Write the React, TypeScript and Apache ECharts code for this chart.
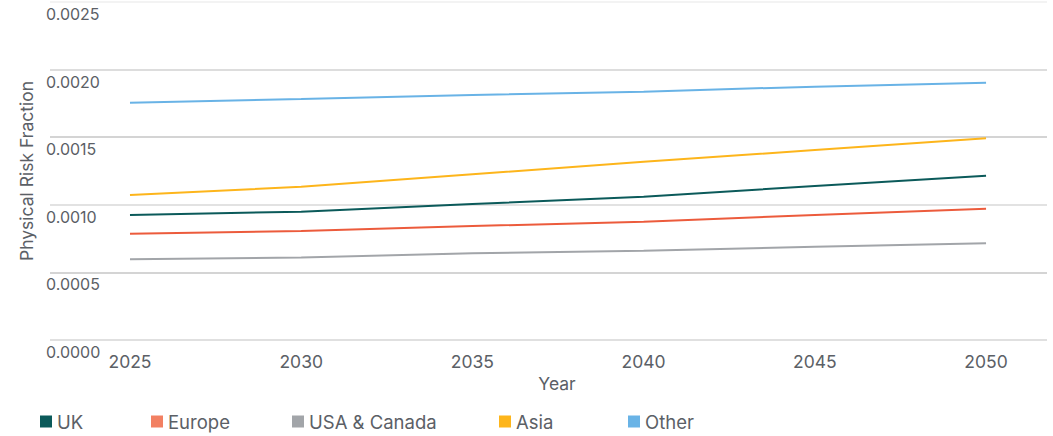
import React, { useEffect, useRef } from "react";
import * as echarts from "echarts";

const years = [2025, 2030, 2035, 2040, 2045, 2050];
const uk = [0.000925, 0.000949, 0.001006, 0.00106, 0.001139, 0.001215];
const europe = [0.000786, 0.000806, 0.000843, 0.000875, 0.000925, 0.000971];
const usaCanada = [0.000597, 0.00061, 0.000641, 0.00066, 0.00069, 0.000715];
const asia = [0.001072, 0.001134, 0.001226, 0.001319, 0.001405, 0.001492];
const other = [0.001755, 0.001783, 0.001812, 0.001837, 0.001874, 0.001903];
const yTicks = [0, 0.0005, 0.001, 0.0015, 0.002, 0.0025];

const seriesDefs = [
  { name: "UK", data: uk, line: "#0B5A5A", legend: "#0B5A5A", left: 40 },
  { name: "Europe", data: europe, line: "#EC5B3C", legend: "#F28062", left: 151 },
  { name: "USA & Canada", data: usaCanada, line: "#A2A5A9", legend: "#A2A5A9", left: 292 },
  { name: "Asia", data: asia, line: "#FDB51B", legend: "#FDB51B", left: 499 },
  { name: "Other", data: other, line: "#69B3E6", legend: "#69B3E6", left: 628 },
];

const FONT = "Inter, 'Noto Sans', sans-serif";
const TEXT = "#5B6066";

export default function App() {
  const ref = useRef<HTMLDivElement>(null);
  useEffect(() => {
    document.body.style.margin = "0";
    const chart = echarts.init(ref.current!, undefined, { renderer: "svg" });
    chart.setOption({
      animation: false,
      textStyle: { fontFamily: FONT },
      grid: { left: 50, right: 6, top: 2, bottom: 96, containLabel: false },
      legend: seriesDefs.map((s) => ({
        data: [s.name],
        left: s.left,
        top: 412,
        padding: 0,
        icon: "rect",
        itemWidth: 12,
        itemHeight: 12,
        selectedMode: false,
        textStyle: { fontFamily: FONT, fontSize: 18.5, color: TEXT },
      })),
      xAxis: {
        type: "value",
        min: 2022.664,
        max: 2051.78,
        name: "Year",
        nameLocation: "middle",
        nameGap: 34,
        nameTextStyle: { fontFamily: FONT, fontSize: 17.5, color: TEXT, padding: [0, 0, 0, 17] },
        axisLine: { show: false },
        axisTick: { show: false },
        splitLine: { show: false },
        axisLabel: {
          customValues: years,
          formatter: (v: number) => String(Math.round(v)),
          fontFamily: FONT,
          fontSize: 17.5,
          color: TEXT,
          margin: 12,
          showMinLabel: true,
          showMaxLabel: true,
        },
      },
      yAxis: {
        type: "value",
        min: yTicks[0],
        max: yTicks[yTicks.length - 1],
        interval: 0.0005,
        name: "Physical Risk Fraction",
        nameLocation: "middle",
        nameGap: 14,
        nameTextStyle: { fontFamily: FONT, fontSize: 17.5, color: TEXT },
        axisLine: { show: false },
        axisTick: { show: false },
        splitLine: {
          show: true,
          lineStyle: {
            color: ["#D6D6D6", "#C6C6C6", "#D9D9D9", "#C6C6C6", "#D2D2D2", "#EFEFEF"],
            width: 1.5,
          },
        },
        axisLabel: {
          formatter: (v: number) => v.toFixed(4),
          fontFamily: FONT,
          fontSize: 16,
          color: TEXT,
          align: "left",
          verticalAlign: "top",
          lineHeight: 16,
          padding: [4, 0, 0, 0],
          margin: 4,
        },
      },
      series: seriesDefs.map((s) => ({
        name: s.name,
        type: "line",
        data: years.map((y, i) => [y, s.data[i]]),
        showSymbol: false,
        symbol: "none",
        itemStyle: { color: s.legend },
        lineStyle: { color: s.line, width: 2 },
      })),
    });
    return () => chart.dispose();
  }, []);
  return <div ref={ref} style={{ width: 1053, height: 436 }} />;
}
